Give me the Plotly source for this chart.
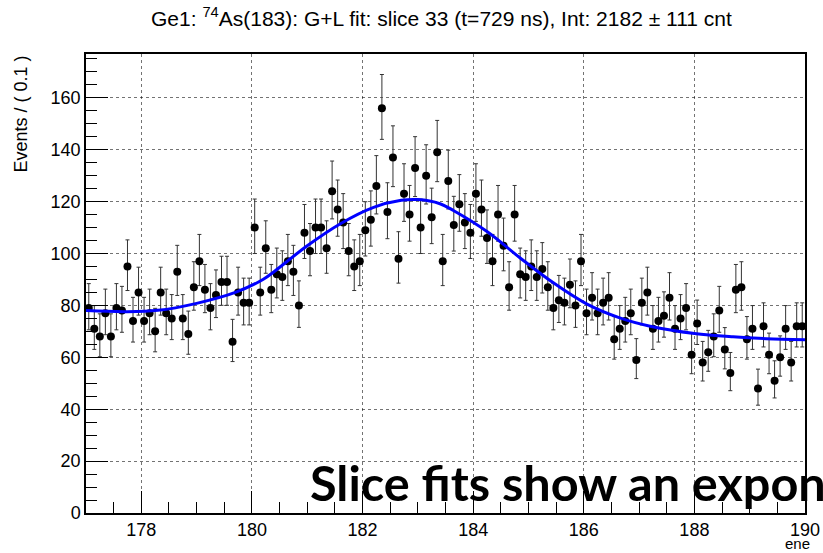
import numpy as np
import plotly.graph_objects as go

# Histogram: 0.1-wide energy bins from 177.0 to 190.0
bin_lo = 177.0
bin_width = 0.1
counts = [
    79, 71, 68, 77, 68, 79, 78, 95, 74, 85,
    74, 77, 70, 85, 77, 75, 93, 75, 69, 87,
    97, 86, 79, 84, 89, 89, 66, 85, 81, 81,
    110, 85, 102, 86, 92, 91, 97, 93, 80, 108,
    101, 110, 110, 102, 124, 117, 112, 101, 95, 97,
    109, 113, 126, 156, 116, 137, 98, 123, 115, 133,
    110, 130, 114, 139, 97, 128, 111, 119, 112, 108,
    123, 117, 106, 97, 115, 103, 87, 115, 92, 91,
    95, 91, 94, 87, 79, 82, 81, 88, 80, 97,
    77, 83, 77, 81, 83, 67, 71, 74, 77, 59,
    81, 85, 71, 74, 76, 83, 71, 75, 79, 61,
    73, 58, 62, 68, 78, 63, 54, 86, 87, 67,
    71, 48, 72, 61, 51, 60, 71, 58, 72, 72,
]

# Gaussian + background fit curve, sampled along the energy axis
fit_ene = [177.0, 177.7, 178.3, 179.0, 179.7, 180.2, 180.4, 181.0, 181.6,
           182.2, 182.7, 183.0, 183.4, 183.65, 184.25, 184.85, 185.45,
           186.05, 186.65, 187.2, 188.0, 188.7, 189.3, 190.0]
fit_val = [78.0, 77.6, 78.1, 80.8, 85.0, 90.0, 93.0, 103.0, 111.5,
           117.8, 120.5, 120.8, 119.2, 116.5, 108.5, 98.3, 88.7,
           80.6, 75.2, 72.0, 69.2, 67.9, 67.2, 66.8]

x_ticks = [178, 180, 182, 184, 186, 188, 190]
y_ticks = [0, 20, 40, 60, 80, 100, 120, 140, 160]

title_text = ("Ge1: <sup>74</sup>As(183): G+L fit: slice 33 (t=729 ns), "
              "Int: 2182 \u00b1 111 cnt")
overlay_text = "<b>Slice fits show an exponential decay</b>"

n = np.array(counts, dtype=float)
centers = bin_lo + bin_width * (np.arange(len(counts)) + 0.5)
# approximate Poisson (asymmetric) intervals
err_hi = 0.5 + np.sqrt(n + 0.25)
err_lo = -0.5 + np.sqrt(n + 0.25)

W, H = 823, 553
ML, MR, MT, MB = 86, 18, 54, 40

fig = go.Figure()
fig.add_trace(go.Scatter(
    x=centers, y=n, mode="markers",
    marker=dict(color="black", size=8),
    error_y=dict(type="data", array=err_hi, arrayminus=err_lo,
                 color="#333333", thickness=1, width=2),
    showlegend=False, hoverinfo="skip",
))
fig.add_trace(go.Scatter(
    x=fit_ene, y=fit_val, mode="lines",
    line=dict(color="#0000ff", width=3, shape="spline", smoothing=1.0),
    showlegend=False, hoverinfo="skip",
))

axis_font = dict(family="Liberation Sans, Arial, sans-serif", size=18, color="black")
fig.update_xaxes(
    range=[177, 190], tickvals=x_ticks, ticktext=[str(v) for v in x_ticks],
    ticks="inside", ticklen=22, tickwidth=1, tickcolor="black",
    minor=dict(ticks="inside", ticklen=11, dtick=0.5, tick0=177, tickcolor="black",
               showgrid=False),
    showgrid=True, gridcolor="rgba(0,0,0,0.55)", gridwidth=1, griddash="dot",
    showline=True, linecolor="black", linewidth=1.5, mirror=True,
    zeroline=False, tickfont=axis_font, automargin=False,
)
fig.update_yaxes(
    range=[0, 176.9], tickvals=y_ticks, ticktext=[str(v) for v in y_ticks],
    ticks="inside", ticklen=22, tickwidth=1, tickcolor="black",
    minor=dict(ticks="inside", ticklen=11, dtick=5, tick0=0, tickcolor="black",
               showgrid=False),
    showgrid=True, gridcolor="rgba(0,0,0,0.55)", gridwidth=1, griddash="dot",
    showline=True, linecolor="black", linewidth=1.5, mirror=True,
    zeroline=False, tickfont=axis_font, automargin=False,
)

pw = W - ML - MR
ph = H - MT - MB


def px_x(p):
    return (p - ML) / pw


def px_y(p):
    return (H - MB - p) / ph


fig.update_layout(
    width=W, height=H,
    margin=dict(l=ML, r=MR, t=MT, b=MB, pad=0, autoexpand=False),
    paper_bgcolor="white", plot_bgcolor="white",
    annotations=[
        dict(text=title_text, x=px_x(441), y=px_y(17), xref="paper", yref="paper",
             xanchor="center", yanchor="middle", showarrow=False,
             font=dict(family="Liberation Sans, Arial, sans-serif", size=21, color="black")),
        dict(text="Events / ( 0.1 )", x=px_x(20), y=1.0, xref="paper", yref="paper",
             xanchor="center", yanchor="top", textangle=-90, showarrow=False,
             font=dict(family="Liberation Sans, Arial, sans-serif", size=18, color="black")),
        dict(text="ene", x=px_x(812), y=px_y(543), xref="paper", yref="paper",
             xanchor="right", yanchor="middle", showarrow=False,
             font=dict(family="Liberation Sans, Arial, sans-serif", size=15, color="black")),
        dict(text=overlay_text, x=px_x(308), y=px_y(482), xref="paper", yref="paper",
             xanchor="left", yanchor="middle", showarrow=False,
             font=dict(family="Lato, sans-serif", size=48.6, color="black")),
    ],
)

fig.write_html("out.html")
